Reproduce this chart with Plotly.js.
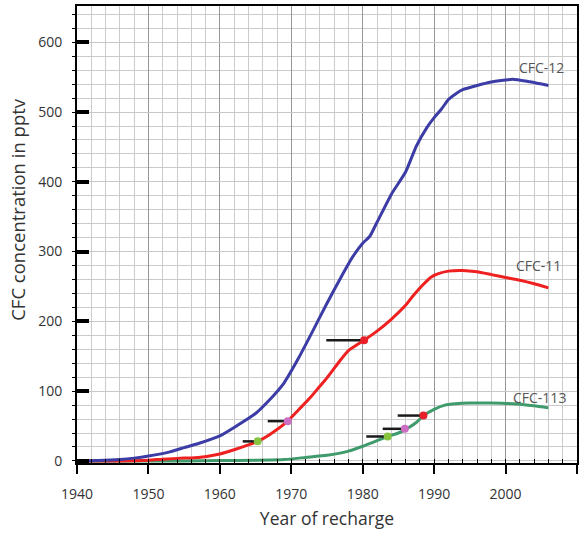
<!DOCTYPE html>
<html>
<head>
<meta charset="utf-8">
<script src="https://cdn.plot.ly/plotly-3.0.1.min.js"></script>
<style>
html,body{margin:0;padding:0;background:#fff;}
#chart{width:585px;height:537px;}
</style>
</head>
<body>
<div id="chart"></div>
<script>
// CFC-12 atmospheric record
var cfc12Years = [1940, 1943, 1946, 1948, 1950, 1953, 1955, 1957, 1960, 1962, 1965, 1967, 1969, 1971, 1973, 1975, 1977, 1978.5, 1980, 1981, 1982, 1984, 1986, 1987.5, 1989, 1990, 1991, 1992, 1993, 1994, 1996, 1998, 2000, 2001, 2003, 2006];
var cfc12Values = [0, 0.5, 2, 4, 7, 13, 19, 25, 36, 48, 68, 88, 112, 147, 186, 226, 264, 291, 312, 322, 342, 382, 414, 451, 478, 492, 504, 518, 526, 532, 538, 543, 546, 547, 544, 538];

// CFC-11 atmospheric record
var cfc11Years = [1940, 1945, 1950, 1952, 1955, 1957, 1960, 1962, 1964, 1965.3, 1967, 1969.5, 1971, 1972.6, 1974, 1975, 1977, 1978, 1980.2, 1982, 1984, 1986, 1987, 1988.4, 1989.5, 1990.5, 1992, 1994, 1996, 1998, 2000, 2002, 2004, 2006];
var cfc11Values = [0, 0, 1, 2.5, 4, 5, 10, 16, 23, 28, 38, 57, 73, 90, 107, 119, 146, 158, 173, 186, 203, 223, 236, 252, 263, 268, 272, 273, 271, 267, 263, 259, 254, 248];

// CFC-113 atmospheric record
var cfc113Years = [1940, 1955, 1960, 1965, 1969, 1972, 1975, 1978, 1980, 1982, 1983.5, 1985, 1986, 1987.5, 1988.5, 1990, 1991.5, 1993, 1995, 1998, 2001, 2004, 2006];
var cfc113Values = [0, 0, 0.5, 1, 2, 5, 8, 14, 21, 29, 35, 40, 45, 55, 65, 74, 80, 82, 83, 83, 82, 79, 76];

// Sample markers: horizontal bar from start year to recharge year at a concentration
var sampleStartYears = [1963.2, 1966.7, 1974.9, 1980.5, 1982.8, 1984.9];
var sampleYears = [1965.3, 1969.5, 1980.2, 1983.5, 1985.9, 1988.5];
var sampleValues = [28, 57, 173, 35, 46, 65];
var sampleColors = ['#86c440', '#cc6fc4', '#e8202a', '#86c440', '#cc6fc4', '#e8202a'];

// Curve labels
var labelNames = ['CFC-12', 'CFC-11', 'CFC-113'];
var labelYears = [2005.0, 2004.6, 2004.8];
var labelValues = [564, 280, 91];

var xTickVals = [1940, 1950, 1960, 1970, 1980, 1990, 2000, 2010];
var yTickVals = [0, 100, 200, 300, 400, 500, 600];

var xTitle = 'Year of recharge';
var yTitle = 'CFC concentration in pptv';

var traces = [];
traces.push({x: cfc113Years, y: cfc113Values, mode: 'lines', line: {color: '#3f9a6c', width: 3, shape: 'spline', smoothing: 0.5}, hoverinfo: 'skip'});
traces.push({x: cfc11Years, y: cfc11Values, mode: 'lines', line: {color: '#ee2020', width: 3, shape: 'spline', smoothing: 0.5}, hoverinfo: 'skip'});
traces.push({x: cfc12Years, y: cfc12Values, mode: 'lines', line: {color: '#3c3ca6', width: 3, shape: 'spline', smoothing: 0.5}, hoverinfo: 'skip'});

var segX = [], segY = [];
for (var i = 0; i < sampleYears.length; i++) {
  segX.push(sampleStartYears[i], sampleYears[i], null);
  segY.push(sampleValues[i], sampleValues[i], null);
}
traces.push({x: segX, y: segY, mode: 'lines', line: {color: '#1a1a1a', width: 2.5}, hoverinfo: 'skip'});
traces.push({x: sampleYears, y: sampleValues, mode: 'markers', marker: {color: sampleColors, size: 8}, cliponaxis: false, hoverinfo: 'skip'});

var annotations = labelNames.map(function (t, i) {
  return {x: labelYears[i], y: labelValues[i], text: t, showarrow: false,
    xanchor: 'center', yanchor: 'middle',
    font: {family: 'Open Sans, sans-serif', size: 14, color: '#555'}};
});
annotations.push({
  xref: 'paper', yref: 'paper', x: -0.118, y: 0.554,
  xanchor: 'center', yanchor: 'middle', textangle: -90,
  text: yTitle, showarrow: false,
  font: {family: 'Open Sans, sans-serif', size: 18.5, color: '#333'}
});

var layout = {
  width: 585, height: 537,
  margin: {l: 77, r: 8, t: 6, b: 74},
  paper_bgcolor: '#fff', plot_bgcolor: '#fff',
  showlegend: false,
  font: {family: 'Open Sans, sans-serif', size: 14, color: '#333'},
  xaxis: {
    range: [1940, 2010],
    tickvals: xTickVals,
    ticks: 'outside', ticklen: 9, tickwidth: 2, tickcolor: '#000',
    ticklabelstandoff: 8,
    showline: true, linecolor: '#000', linewidth: 2, mirror: true,
    showgrid: true, gridcolor: '#969696', gridwidth: 1,
    zeroline: false,
    minor: {dtick: 2, showgrid: true, gridcolor: '#cbcbcb', gridwidth: 1, ticks: 'inside', ticklen: 4, tickwidth: 1, tickcolor: '#000'},
    tickfont: {size: 14, color: '#333'},
    title: {text: xTitle, font: {size: 17.5, color: '#333'}, standoff: 11}
  },
  yaxis: {
    range: [-3, 652],
    tickvals: yTickVals,
    ticks: 'inside', ticklen: 12, tickwidth: 4, tickcolor: '#000',
    ticklabelstandoff: 10,
    showline: true, linecolor: '#000', linewidth: 2, mirror: true,
    showgrid: true, gridcolor: '#c8c8c8', gridwidth: 1,
    zeroline: false,
    minor: {dtick: 20, showgrid: true, gridcolor: '#cbcbcb', gridwidth: 1, ticks: 'outside', ticklen: 3, tickwidth: 1, tickcolor: '#000'},
    tickfont: {size: 14, color: '#333'}
  },
  annotations: annotations
};

Plotly.newPlot('chart', traces, layout, {staticPlot: true, displayModeBar: false});
</script>
</body>
</html>
